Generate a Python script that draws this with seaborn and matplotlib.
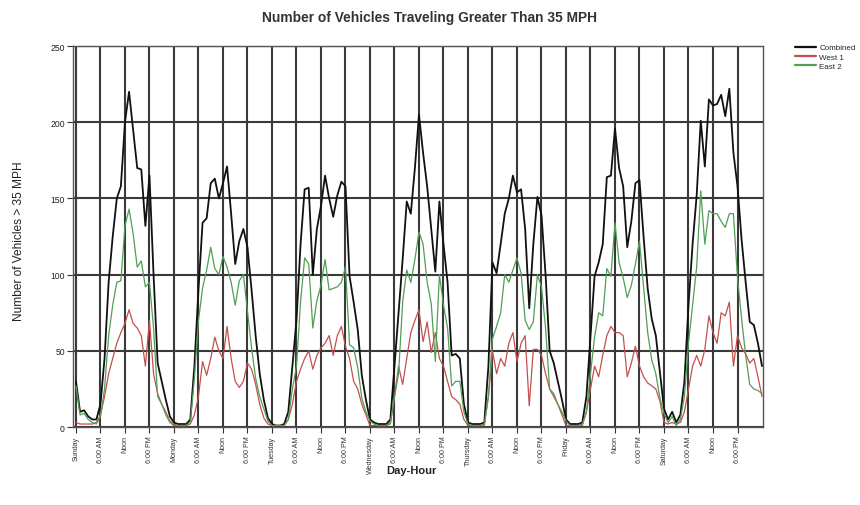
import matplotlib
matplotlib.use("Agg")
import matplotlib.pyplot as plt
import pandas as pd
import seaborn as sns

days = ["Sunday", "Monday", "Tuesday", "Wednesday", "Thursday", "Friday", "Saturday"]
hour_labels = ["6:00 AM", "Noon", "6:00 PM"]
series_names = ["Combined", "West 1", "East 2"]

# hourly counts, Sunday 0:00 through Sunday 0:00 of the following week
combined = (
    [30, 10, 11, 7, 5, 5, 15, 45, 95, 125, 150, 158, 200, 220, 195, 170, 169, 132, 165, 100, 42, 30, 18, 7]
    + [3, 2, 2, 2, 5, 40, 90, 134, 137, 160, 163, 150, 160, 171, 140, 107, 122, 130, 118, 90, 60, 35, 18, 6]
    + [2, 1, 1, 2, 10, 40, 70, 120, 156, 157, 100, 130, 145, 165, 150, 138, 152, 161, 158, 99, 82, 64, 34, 18]
    + [5, 3, 2, 2, 2, 5, 40, 75, 110, 148, 140, 170, 205, 180, 158, 130, 102, 148, 120, 95, 47, 48, 45, 15]
    + [3, 2, 2, 2, 3, 40, 108, 101, 120, 140, 150, 165, 154, 156, 130, 78, 120, 151, 139, 100, 50, 42, 30, 18]
    + [5, 2, 2, 2, 3, 20, 60, 99, 108, 120, 164, 165, 196, 170, 158, 118, 135, 160, 162, 125, 91, 71, 60, 36]
    + [12, 5, 10, 3, 8, 30, 80, 120, 152, 201, 171, 215, 211, 212, 218, 204, 222, 180, 158, 123, 95, 69, 67, 55, 40]
)
west_1 = (
    [3, 2, 2, 2, 2, 3, 8, 20, 35, 45, 55, 62, 68, 77, 68, 65, 60, 40, 70, 35, 22, 15, 10, 4]
    + [2, 1, 1, 1, 2, 8, 20, 43, 34, 45, 59, 50, 45, 66, 45, 30, 26, 30, 42, 38, 28, 15, 6, 2]
    + [1, 1, 1, 1, 5, 15, 30, 38, 45, 50, 38, 47, 52, 55, 60, 47, 60, 66, 53, 45, 30, 25, 15, 8]
    + [1, 1, 1, 1, 1, 3, 20, 40, 28, 45, 62, 70, 77, 56, 69, 49, 62, 45, 40, 30, 20, 18, 15, 5]
    + [1, 1, 1, 1, 2, 20, 50, 35, 45, 40, 55, 62, 43, 55, 60, 14, 51, 51, 47, 35, 25, 20, 15, 8]
    + [1, 1, 1, 1, 2, 10, 25, 40, 33, 47, 60, 66, 62, 62, 60, 33, 42, 53, 40, 33, 29, 27, 25, 17]
    + [3, 2, 3, 2, 3, 10, 25, 40, 47, 40, 51, 73, 62, 55, 75, 73, 82, 40, 60, 52, 48, 42, 45, 33, 20]
)
east_2 = (
    [27, 8, 9, 5, 3, 2, 7, 25, 60, 80, 95, 96, 132, 143, 127, 105, 109, 92, 95, 65, 20, 15, 8, 3]
    + [1, 1, 1, 1, 3, 32, 70, 91, 103, 118, 104, 100, 112, 105, 95, 80, 96, 100, 76, 52, 32, 20, 12, 4]
    + [1, 1, 1, 1, 5, 25, 40, 82, 111, 107, 65, 83, 93, 110, 90, 91, 92, 95, 105, 54, 52, 39, 19, 10]
    + [4, 2, 1, 1, 1, 2, 20, 35, 82, 103, 95, 110, 128, 120, 95, 81, 43, 100, 80, 65, 27, 30, 30, 10]
    + [2, 1, 1, 1, 1, 20, 58, 66, 75, 100, 95, 103, 111, 101, 70, 64, 69, 100, 92, 65, 25, 22, 15, 10]
    + [4, 1, 1, 1, 1, 10, 35, 59, 75, 73, 104, 99, 134, 108, 98, 85, 93, 107, 122, 92, 62, 44, 35, 19]
    + [9, 3, 7, 1, 5, 20, 55, 80, 105, 155, 120, 142, 140, 140, 135, 131, 140, 140, 98, 71, 47, 28, 25, 24, 22]
)

hours = list(range(len(combined)))
df = pd.DataFrame({
    "hour": hours * 3,
    "count": combined + west_1 + east_2,
    "series": [series_names[0]] * len(hours) + [series_names[1]] * len(hours) + [series_names[2]] * len(hours),
})

tick_pos = list(range(0, 168, 6))
tick_text = []
for d in days:
    tick_text += [d] + hour_labels

sns.set_style("white")
plt.rcParams["font.family"] = ["Liberation Sans", "DejaVu Sans"]

fig = plt.figure(figsize=(8.6, 5.06), dpi=100)
ax = fig.add_axes([0.085, 0.154, 0.802, 0.753])

palette = {"Combined": "#111111", "West 1": "#c4504e", "East 2": "#4f9f55"}
widths = {"Combined": 1.3, "West 1": 0.9, "East 2": 0.9}
for name in series_names:
    sns.lineplot(data=df[df["series"] == name], x="hour", y="count", color=palette[name],
                 linewidth=widths[name], label=name, ax=ax, zorder=3)

ax.set_xlim(-0.7, 168.2)
ax.set_ylim(0, 250)
ax.set_xticks(tick_pos)
ax.set_xticklabels(tick_text, rotation=90, fontsize=5.1, color="#333333", va="top", ha="center")
ax.set_yticks(range(0, 251, 50))
ax.set_yticklabels([str(v) for v in range(0, 251, 50)], fontsize=6.2, color="#222222")
ax.tick_params(axis="both", which="major", length=4, width=0.8, color="#333333", pad=2, direction="out",
               bottom=True, left=True)
ax.grid(True, color="#3a3a3a", linewidth=1.5, zorder=1)
ax.set_axisbelow(True)
for s in ax.spines.values():
    s.set_color("#555555")
    s.set_linewidth(1.0)

ax.set_xlabel("Day-Hour", fontsize=8, fontweight="bold", color="#222222")
ax.xaxis.set_label_coords(0.49, -0.1)
ax.set_ylabel("Number of Vehicles > 35 MPH", fontsize=8.6, color="#222222")
ax.yaxis.set_label_coords(-0.07, 0.49)
fig.suptitle("Number of Vehicles Traveling Greater Than 35 MPH", x=0.5, y=0.978, fontsize=9.9,
             fontweight="bold", color="#333333")

leg = ax.legend(loc="upper left", bbox_to_anchor=(0.921, 0.918), bbox_transform=fig.transFigure,
                frameon=False, fontsize=5.8, handlelength=2.6, handletextpad=0.4, labelspacing=0.2,
                borderaxespad=0)
for line in leg.get_lines():
    line.set_linewidth(1.6)

fig.savefig("out.png", dpi=100)
